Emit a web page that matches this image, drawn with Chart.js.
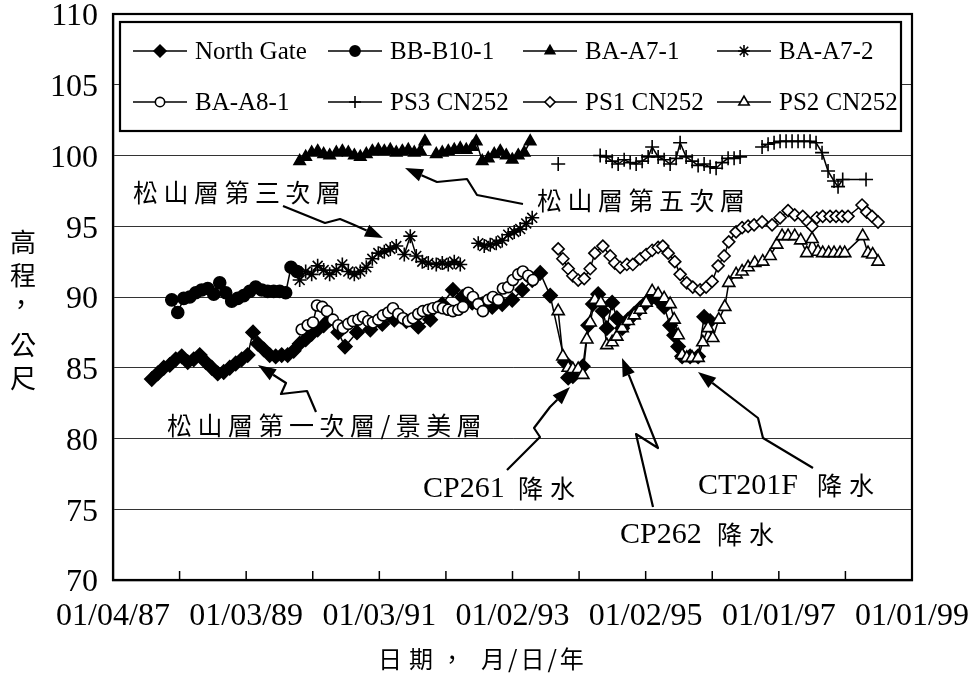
<!DOCTYPE html>
<html><head><meta charset="utf-8">
<script src="https://cdn.jsdelivr.net/npm/chart.js@4.4.0/dist/chart.umd.min.js"></script>
<style>html,body{margin:0;padding:0;background:#fff;}#wrap{width:975px;height:674px;position:relative;}</style>
</head><body><div id="wrap"><canvas id="c" width="975" height="674"></canvas></div>
<script>
// ---- data (x = decimal year, y = elevation in m) ----
const ngYears=[1987.59,1987.68,1987.77,1987.86,1987.95,1988.04,1988.13,1988.22,1988.31,1988.40,1988.49,1988.58,1988.67,1988.76,1988.85,1988.94,1989.03,1989.11,1989.18,1989.27,1989.36,1989.45,1989.54,1989.63,1989.72,1989.81,1989.90,1989.99,1990.08,1990.17,1990.26,1990.39,1990.49,1990.67,1990.87,1991.05,1991.23,1991.41,1991.59,1991.77,1991.95,1992.11,1992.25,1992.40,1992.55,1992.70,1992.85,1993.00,1993.15,1993.30,1993.42,1993.57,1993.79,1993.84,1993.91,1994.06,1994.14,1994.21,1994.29,1994.36,1994.42,1994.50,1994.57,1994.65,1994.74,1994.83,1994.92,1995.01,1995.10,1995.19,1995.28,1995.37,1995.43,1995.49,1995.55,1995.67,1995.79,1995.88,1995.97];
const ngLevels=[84.2,84.6,85.0,85.2,85.6,85.8,85.4,85.6,85.9,85.4,85.0,84.6,84.7,85.0,85.3,85.6,85.9,87.5,86.7,86.3,85.9,85.8,85.9,85.9,86.2,86.7,87.0,87.4,87.7,88.0,88.4,87.5,86.5,87.5,87.7,88.1,88.4,88.3,87.9,88.4,89.5,90.5,90.0,89.6,89.5,89.3,89.5,89.8,90.5,91.2,91.7,90.1,85.4,84.3,84.4,85.1,88.0,89.5,90.2,89.0,87.8,89.6,88.5,87.8,88.4,88.8,89.2,89.6,90.0,89.8,89.3,88.0,87.3,86.5,85.8,85.8,85.8,88.6,88.3];
const bbYears=[1987.89,1987.98,1988.07,1988.16,1988.25,1988.34,1988.43,1988.52,1988.61,1988.70,1988.79,1988.88,1988.97,1989.06,1989.15,1989.24,1989.33,1989.42,1989.51,1989.60,1989.68,1989.77];
const bbLevels=[89.8,88.9,89.9,90.0,90.3,90.5,90.6,90.2,91.0,90.3,89.7,89.9,90.1,90.4,90.7,90.5,90.4,90.4,90.4,90.3,92.1,91.8];
const a71Years=[1989.81,1989.90,1989.99,1990.08,1990.17,1990.26,1990.36,1990.45,1990.54,1990.63,1990.72,1990.81,1990.90,1990.99,1991.08,1991.17,1991.26,1991.35,1991.44,1991.53,1991.62,1991.69,1991.77,1991.86,1991.95,1992.04,1992.13,1992.22,1992.31,1992.40,1992.46,1992.55,1992.64,1992.73,1992.82,1992.91,1993.00,1993.09,1993.18,1993.27];
const a71Levels=[99.6,99.9,100.2,100.3,100.1,100.0,100.2,100.3,100.2,100.0,99.9,100.1,100.3,100.4,100.3,100.4,100.2,100.3,100.4,100.2,100.3,101.0,null,100.1,100.2,100.3,100.4,100.5,100.4,100.6,101.0,99.6,99.8,100.1,100.3,100.0,99.7,100.0,100.2,101.0];
const a72Years=[1989.81,1989.90,1989.99,1990.08,1990.17,1990.26,1990.36,1990.45,1990.54,1990.63,1990.72,1990.81,1990.90,1990.99,1991.08,1991.17,1991.26,1991.38,1991.47,1991.56,1991.65,1991.74,1991.86,1991.95,1992.04,1992.13,1992.22,1992.35,1992.49,1992.58,1992.67,1992.76,1992.85,1992.94,1993.03,1993.12,1993.21,1993.30];
const a72Levels=[91.2,91.8,91.6,92.2,91.9,91.6,91.9,92.3,91.8,91.6,91.8,92.1,92.7,93.1,93.2,93.4,93.6,93.0,94.3,92.9,92.5,92.4,92.3,92.4,92.3,92.5,92.3,null,93.8,93.6,93.7,93.8,94.0,94.4,94.6,94.8,95.2,95.6];
const a81Years=[1989.84,1989.93,1990.01,1990.07,1990.15,1990.22,1990.31,1990.39,1990.46,1990.54,1990.61,1990.69,1990.76,1990.84,1990.91,1990.99,1991.06,1991.14,1991.21,1991.29,1991.36,1991.44,1991.51,1991.59,1991.66,1991.74,1991.81,1991.89,1991.96,1992.04,1992.11,1992.19,1992.26,1992.34,1992.41,1992.49,1992.56,1992.64,1992.71,1992.79,1992.86,1992.94,1993.01,1993.09,1993.16,1993.24,1993.31];
const a81Levels=[87.7,88.0,88.2,89.4,89.3,89.0,88.4,88.0,87.8,88.1,88.3,88.4,88.6,88.3,88.2,88.4,88.7,88.9,89.2,88.8,88.5,88.3,88.5,88.8,89.0,89.1,89.2,89.3,89.2,89.1,89.0,89.1,89.3,90.3,90.0,89.5,89.0,89.8,90.0,89.8,90.6,90.7,91.2,91.6,91.8,91.5,91.2];
const ps3Years=[1993.69,1994.00,1994.32,1994.41,1994.50,1994.59,1994.68,1994.77,1994.86,1994.95,1995.04,1995.10,1995.19,1995.28,1995.37,1995.46,1995.52,1995.61,1995.70,1995.79,1995.88,1995.97,1996.06,1996.15,1996.24,1996.33,1996.42,1996.58,1996.75,1996.84,1996.93,1997.02,1997.11,1997.20,1997.29,1997.38,1997.47,1997.56,1997.65,1997.74,1997.83,1997.89,1997.96,1998.31];
const ps3Levels=[99.4,null,100.0,99.9,99.6,99.4,99.7,99.5,99.4,99.6,99.9,100.6,99.9,99.7,99.4,99.8,100.9,99.9,99.6,99.3,99.4,99.2,99.1,99.5,99.8,99.8,99.9,null,100.6,100.8,100.9,101.0,101.0,101.0,101.0,101.0,101.0,100.9,100.2,98.9,98.2,97.8,98.3,98.3];
const ps1Years=[1993.69,1993.76,1993.84,1993.91,1993.99,1994.08,1994.17,1994.24,1994.36,1994.47,1994.54,1994.62,1994.72,1994.81,1994.92,1995.01,1995.10,1995.19,1995.26,1995.34,1995.44,1995.52,1995.62,1995.71,1995.82,1995.91,1996.00,1996.09,1996.18,1996.25,1996.36,1996.45,1996.54,1996.63,1996.75,1996.90,1997.02,1997.14,1997.24,1997.36,1997.44,1997.50,1997.57,1997.66,1997.77,1997.86,1997.95,1998.04,1998.25,1998.32,1998.40,1998.49];
const ps1Levels=[93.4,92.7,92.0,91.5,91.2,91.3,92.0,93.1,93.6,92.9,92.4,92.1,92.3,92.3,92.7,93.0,93.3,93.5,93.6,93.1,92.5,91.6,91.0,90.7,90.5,90.7,91.1,92.2,92.9,93.9,94.6,94.9,95.0,95.1,95.3,95.1,95.6,96.1,95.8,95.7,95.3,95.0,95.6,95.7,95.7,95.7,95.7,95.7,96.5,96.0,95.7,95.3];
const ps2Years=[1993.69,1993.76,1993.84,1993.91,1993.99,1994.06,1994.12,1994.17,1994.24,1994.33,1994.42,1994.50,1994.57,1994.65,1994.74,1994.83,1994.92,1995.01,1995.10,1995.19,1995.28,1995.37,1995.43,1995.49,1995.55,1995.62,1995.70,1995.79,1995.86,1995.94,1996.01,1996.10,1996.19,1996.25,1996.36,1996.45,1996.54,1996.64,1996.76,1996.87,1996.97,1997.05,1997.14,1997.24,1997.33,1997.42,1997.50,1997.59,1997.66,1997.75,1997.83,1997.92,1997.99,1998.26,1998.34,1998.41,1998.49];
const ps2Levels=[89.0,85.8,85.0,84.9,84.9,84.5,87.0,88.2,89.8,89.6,86.6,86.8,87.2,87.8,88.3,88.7,89.1,89.6,90.4,90.2,89.9,89.5,88.4,87.3,85.9,85.7,85.7,85.7,86.8,87.8,87.1,88.4,89.3,91.0,91.6,91.8,92.1,92.4,92.5,92.9,93.7,94.3,94.3,94.3,94.0,93.1,94.1,93.2,93.1,93.1,93.1,93.1,93.1,94.3,93.1,93.0,92.5];
const seriesNames=['North Gate','BB-B10-1','BA-A7-1','BA-A7-2','BA-A8-1','PS3 CN252','PS1 CN252','PS2 CN252'];
const yTicks=[70,75,80,85,90,95,100,105,110];

// ---- helpers ----
const DAY0=Date.UTC(1987,0,1);
const toDay=y=>(y-1987)*365.25;          // days since 1 Jan 1987
const X_MIN=3, X_MAX=3+12*365;            // 01/04/87 .. 01/01/99
function fmtDay(v){const d=new Date(DAY0+v*864e5);const p=n=>String(n).padStart(2,'0');return p(d.getUTCMonth()+1)+'/'+p(d.getUTCDate())+'/'+p(d.getUTCFullYear()%100);}
const pts=(xs,ys)=>xs.map((x,i)=>({x:toDay(x),y:ys[i]}));

const styles=[
 {pointStyle:'rectRot',radius:7,fill:'#000'},
 {pointStyle:'circle',radius:6,fill:'#000'},
 {pointStyle:'triangle',radius:6.5,fill:'#000'},
 {pointStyle:'star',radius:7,fill:'#000'},
 {pointStyle:'circle',radius:5.5,fill:'#fff'},
 {pointStyle:'cross',radius:7,fill:'#000'},
 {pointStyle:'rectRot',radius:6,fill:'#fff'},
 {pointStyle:'triangle',radius:7,fill:'#fff'}
];
const seriesData=[pts(ngYears,ngLevels),pts(bbYears,bbLevels),pts(a71Years,a71Levels),pts(a72Years,a72Levels),pts(a81Years,a81Levels),pts(ps3Years,ps3Levels),pts(ps1Years,ps1Levels),pts(ps2Years,ps2Levels)];

const datasets=seriesNames.map((n,i)=>({
  label:n,data:seriesData[i],order:20-i,
  borderColor:'#000',borderWidth:1.5,showLine:true,spanGaps:false,
  pointStyle:styles[i].pointStyle,pointRadius:styles[i].radius,pointHoverRadius:styles[i].radius,
  pointBackgroundColor:styles[i].fill,pointBorderColor:'#000',pointBorderWidth:1.6,
  fill:false,tension:0
}));

const SERIF="'Liberation Serif','Times New Roman',serif";
const CJK="'Noto Sans CJK TC','Noto Sans CJK SC',sans-serif";

function drawArrow(ctx,p){
  const n=p.length, tip=p[n-1], prev=p[n-2];
  const ang=Math.atan2(tip[1]-prev[1],tip[0]-prev[0]);
  const L=18,W=6.5;
  const bx=tip[0]-Math.cos(ang)*L, by=tip[1]-Math.sin(ang)*L;
  ctx.beginPath();ctx.moveTo(p[0][0],p[0][1]);
  for(let i=1;i<n-1;i++)ctx.lineTo(p[i][0],p[i][1]);
  ctx.lineTo(bx,by);ctx.lineWidth=2.2;ctx.strokeStyle='#000';ctx.lineJoin='round';ctx.stroke();
  ctx.beginPath();ctx.moveTo(tip[0],tip[1]);
  ctx.lineTo(bx-Math.sin(ang)*W,by+Math.cos(ang)*W);
  ctx.lineTo(bx+Math.sin(ang)*W,by-Math.cos(ang)*W);ctx.closePath();ctx.fillStyle='#000';ctx.fill();
}

const arrows=[
 [[283,206],[325,223],[340,219],[352,224],[383,238]],
 [[523,204],[477,195],[467,179],[437,182],[405,168]],
 [[316,412],[307,391],[281,394],[286,383],[258,365]],
 [[507,470],[540,437],[534,428],[550,407],[570,387]],
 [[653,507],[636,434],[658,448],[622,358]],
 [[813,468],[763,438],[758,418],[698,372]]
];

const decor={
 id:'decor',
 beforeDatasetsDraw(chart){
  const {ctx,chartArea:a,scales:{x}}=chart;
  ctx.save();ctx.strokeStyle='#000';ctx.lineWidth=1.5;
  for(let k=1;k<12;k++){const px=x.getPixelForValue(X_MIN+365*k);ctx.beginPath();ctx.moveTo(px,a.bottom);ctx.lineTo(px,a.bottom-9);ctx.stroke();}
  ctx.lineWidth=2.2;ctx.strokeRect(a.left,a.top,a.right-a.left,a.bottom-a.top);
  ctx.restore();
 },
 afterDraw(chart){
  const {ctx}=chart;
  ctx.save();
  // legend
  ctx.fillStyle='#fff';ctx.fillRect(120,22,781,109);
  ctx.strokeStyle='#000';ctx.lineWidth=2.2;ctx.strokeRect(120,22,781,109);
  const cols=[133,328,523,717], rows=[51,102];
  seriesNames.forEach((n,i)=>{
    const cx=cols[i%4], cy=rows[Math.floor(i/4)];
    ctx.beginPath();ctx.moveTo(cx,cy);ctx.lineTo(cx+54,cy);ctx.lineWidth=1.5;ctx.strokeStyle='#000';ctx.stroke();
    ctx.fillStyle=styles[i].fill;ctx.strokeStyle='#000';ctx.lineWidth=1.6;
    Chart.helpers.drawPoint(ctx,{pointStyle:styles[i].pointStyle,radius:styles[i].radius*0.85,rotation:0,borderWidth:1.6},cx+27,cy);
    ctx.fillStyle='#000';ctx.font='25px '+SERIF;ctx.textBaseline='middle';ctx.textAlign='left';
    ctx.fillText(n,cx+62,cy+1);
  });
  // annotations
  ctx.fillStyle='#000';ctx.textBaseline='middle';ctx.textAlign='left';
  ctx.font='25px '+CJK;ctx.letterSpacing='5.5px';
  ctx.fillText('松山層第三次層',133,192);
  ctx.fillText('松山層第五次層',537,200);
  ctx.fillText('松山層第一次層/景美層',167,425);
  ctx.letterSpacing='7px';
  ctx.fillText('降水',518,488);ctx.fillText('降水',717,534);ctx.fillText('降水',817,485);
  ctx.letterSpacing='0px';ctx.font='30px '+SERIF;
  ctx.fillText('CP261',423,489);ctx.fillText('CP262',620,535);ctx.fillText('CT201F',698,486);
  arrows.forEach(p=>drawArrow(ctx,p));
  // axis titles
  ctx.font='26px '+CJK;ctx.textAlign='center';
  [['高',242],['程',275],['公',345],['尺',378]].forEach(([c,y])=>ctx.fillText(c,23,y));
  ctx.fillText('，',21,304);
  ctx.font='24px '+CJK;ctx.textAlign='left';ctx.letterSpacing='7px';
  ctx.fillText('日期，',378,659);ctx.letterSpacing='3px';ctx.fillText('月/日/年',481,659);
  ctx.restore();
 }
};

new Chart(document.getElementById('c'),{
 type:'scatter',
 data:{datasets},
 options:{
  responsive:false,animation:false,
  layout:{padding:{left:0,top:14,right:63,bottom:0}},
  plugins:{legend:{display:false},tooltip:{enabled:false}},
  scales:{
   x:{type:'linear',min:X_MIN,max:X_MAX,
      afterBuildTicks:s=>{s.ticks=[];for(let k=0;k<=12;k++)s.ticks.push({value:X_MIN+365*k});},
      afterFit:s=>{s.height=94;s.paddingLeft=0;s.paddingRight=0;},
      grid:{display:false,drawTicks:false},border:{display:true,color:'#000',width:2.2},
      ticks:{autoSkip:false,maxRotation:0,padding:17,color:'#000',font:{family:SERIF,size:32},
        callback:(v,i)=>i%2===0?fmtDay(v):''}},
   y:{type:'linear',min:70,max:110,
      afterBuildTicks:s=>{s.ticks=yTicks.map(v=>({value:v}));},
      afterFit:s=>{s.width=113;s.paddingTop=0;s.paddingBottom=0;},
      grid:{color:'#333',lineWidth:1,drawTicks:false},border:{display:true,color:'#000',width:2.2},
      ticks:{padding:15,labelOffset:3,color:'#000',font:{family:SERIF,size:32}}}
  }
 },
 plugins:[decor]
});
</script></body></html>
